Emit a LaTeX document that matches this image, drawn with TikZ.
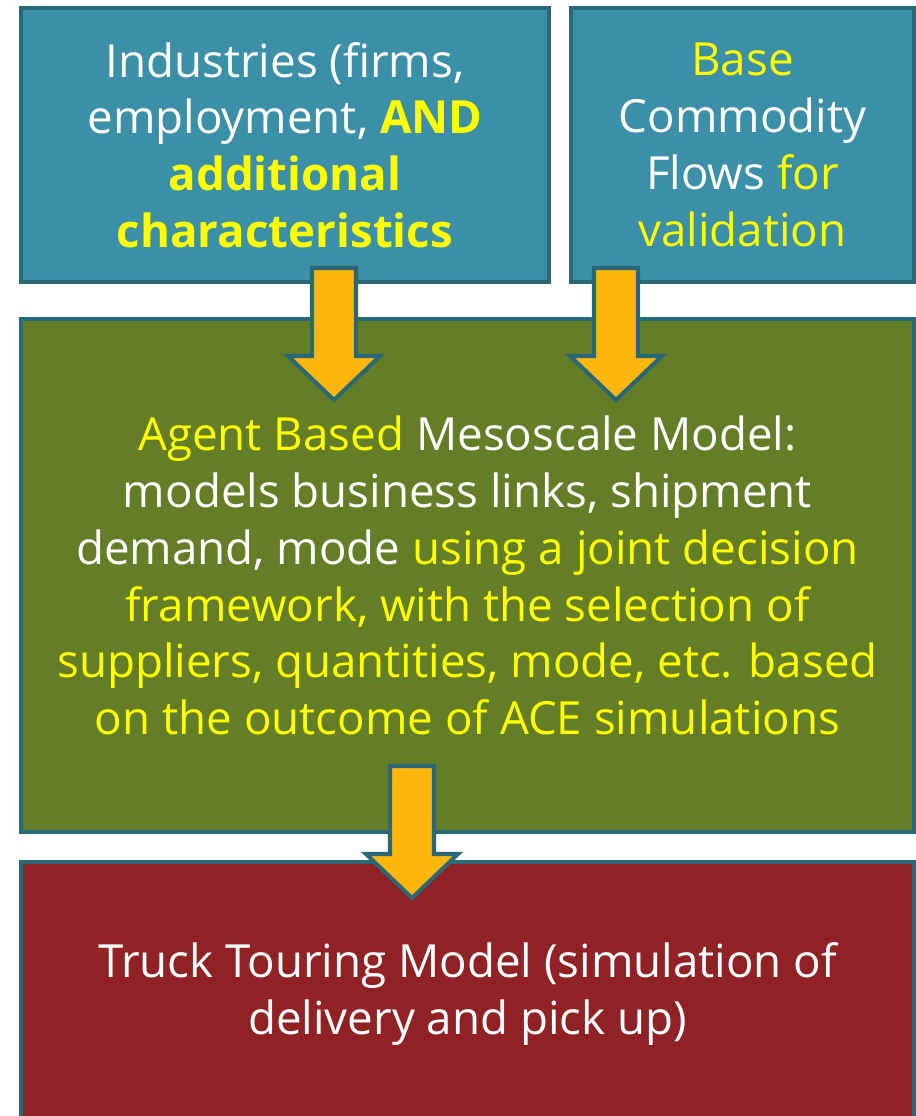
\documentclass[tikz,border=0pt]{standalone}
\usepackage{fontspec}
\setmainfont{Open Sans}
\usepackage{xcolor}
\usepackage{tikz}
\usetikzlibrary{positioning}

\definecolor{boxblue}{RGB}{59,143,166}
\definecolor{boxgreen}{RGB}{99,126,38}
\definecolor{boxred}{RGB}{144,34,37}
\definecolor{edgeteal}{RGB}{42,104,120}
\definecolor{arrowgold}{RGB}{253,182,14}
\definecolor{hiyellow}{RGB}{255,255,0}

\tikzset{
  stage/.style={draw=edgeteal,line width=2.3pt,text=white,align=center,inner sep=0pt,
    font=\fontsize{26}{32.3}\selectfont},
  blockarrow/.style={draw=edgeteal,fill=arrowgold,line width=2.3pt,line join=miter}
}
\newcommand{\hl}[1]{\textcolor{hiyellow}{#1}}
% block arrow pointing down, hung from its top centre
\newcommand{\flowarrow}[1]{\draw[blockarrow] (#1) ++(-22,0) -- ++(0,-88) -- ++(-24,0)
  -- ++(46,-44) -- ++(46,44) -- ++(-24,0) -- ++(0,88) -- cycle;}

\begin{document}
\begin{tikzpicture}[x=0.02cm,y=0.02cm]
\useasboundingbox (0,0) rectangle (916,-1116);
\clip (0,0) rectangle (916,-1116);
% inputs
\node[stage,fill=boxblue,minimum width=10.56cm,minimum height=5.48cm] (ind) at (285,-145)
  {Industries (firms,\\ employment, \textbf{\hl{AND}}\\ \textbf{\hl{additional}}\\ \textbf{\hl{characteristics}}};
\node[stage,fill=boxblue,minimum width=6.86cm,minimum height=5.48cm] (base) at (742.5,-145)
  {\hl{Base}\\ Commodity\\ Flows \hl{for}\\ \hl{validation}};
% models
\node[stage,fill=boxgreen,minimum width=17.86cm,minimum height=10.26cm] (meso) at (467.5,-575.5)
  {\hl{Agent Based} Mesoscale Model:\\ models business links, shipment\\ demand, mode \hl{using a joint decision}\\
   \hl{framework, with the selection of}\\ \hl{suppliers, quantities, mode, etc. based}\\ \hl{on the outcome of ACE simulations}};
\node[stage,fill=boxred,minimum width=17.86cm,minimum height=5.28cm] (truck) at (467.5,-994)
  {Truck Touring Model (simulation of\\ delivery and pick up)};
% flows between stages
\coordinate (a1) at (334,-268);
\coordinate (a2) at (616,-268);
\coordinate (a3) at (412,-766);
\flowarrow{a1} \flowarrow{a2} \flowarrow{a3}
\end{tikzpicture}
\end{document}
